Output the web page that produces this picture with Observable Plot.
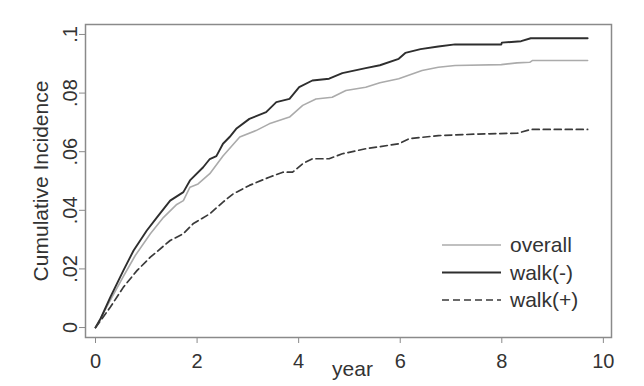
<!DOCTYPE html>
<html>
<head>
<meta charset="utf-8">
<script src="https://cdn.jsdelivr.net/npm/d3@7"></script>
<script src="https://cdn.jsdelivr.net/npm/@observablehq/plot@0.6"></script>
<style>
  html, body { margin: 0; padding: 0; background: #fff; }
  #chart { width: 644px; height: 386px; }
</style>
</head>
<body>
<div id="chart"></div>
<script>
// ---- data ----
const seriesNames = ["overall", "walk(-)", "walk(+)"];

const overallPts = [
  [0, 0], [0.29, 0.0093], [0.55, 0.0175], [0.78, 0.0245], [1.08, 0.032], [1.34, 0.0376],
  [1.6, 0.042], [1.73, 0.0433], [1.86, 0.0479], [2.02, 0.049], [2.25, 0.0525], [2.51, 0.0585],
  [2.84, 0.065], [3.16, 0.0672], [3.42, 0.0695], [3.82, 0.0718], [4.08, 0.0758], [4.34, 0.078],
  [4.66, 0.0786], [4.93, 0.0809], [5.32, 0.082], [5.6, 0.0835], [5.97, 0.0849], [6.43, 0.0877],
  [6.75, 0.0888], [7.08, 0.0894], [7.99, 0.0897], [8.3, 0.0903], [8.55, 0.0905], [8.6, 0.0911],
  [9.69, 0.0911]
];

const walkMinusPts = [
  [0, 0], [0.1, 0.003], [0.29, 0.0103], [0.55, 0.0195], [0.75, 0.0263], [1.01, 0.0331],
  [1.21, 0.0376], [1.47, 0.0433], [1.73, 0.0462], [1.86, 0.0502], [2.12, 0.0547], [2.25, 0.0575],
  [2.38, 0.0585], [2.51, 0.0627], [2.64, 0.065], [2.77, 0.0678], [3.03, 0.0712], [3.36, 0.0735],
  [3.56, 0.0769], [3.82, 0.078], [4.01, 0.082], [4.27, 0.0843], [4.6, 0.0849], [4.86, 0.0868],
  [5.32, 0.0885], [5.6, 0.0895], [5.97, 0.0917], [6.1, 0.0937], [6.4, 0.095], [6.75, 0.0959],
  [7.08, 0.0966], [7.99, 0.0966], [8.0, 0.0972], [8.38, 0.0977], [8.57, 0.0987], [9.69, 0.0987]
];

const walkPlusPts = [
  [0, 0], [0.29, 0.0069], [0.55, 0.0138], [0.82, 0.0195], [1.08, 0.024], [1.47, 0.0297],
  [1.73, 0.032], [1.92, 0.0354], [2.25, 0.0388], [2.51, 0.0428], [2.71, 0.0456], [3.03, 0.0485],
  [3.42, 0.0513], [3.69, 0.053], [3.88, 0.053], [4.08, 0.0559], [4.27, 0.0576], [4.6, 0.0576],
  [4.86, 0.0593], [5.32, 0.061], [5.97, 0.0627], [6.17, 0.0644], [6.75, 0.0655], [7.5, 0.066],
  [8.31, 0.0663], [8.57, 0.0676], [9.69, 0.0676]
];

const xTicks = [0, 2, 4, 6, 8, 10];
const yTicks = [0, 0.02, 0.04, 0.06, 0.08, 0.1];
const yTickLabels = ["0", ".02", ".04", ".06", ".08", ".1"];
const xTitle = "year";
const yTitle = "Cumulative Incidence";

// ---- build ----
const toRows = (pts, name) => pts.map(([t, v]) => ({t, v, name}));
const rows = [
  ...toRows(overallPts, seriesNames[0]),
  ...toRows(walkMinusPts, seriesNames[1]),
  ...toRows(walkPlusPts, seriesNames[2])
];

const styles = {
  "overall": {stroke: "#ababab", strokeWidth: 1.6, dash: null},
  "walk(-)": {stroke: "#2e2e2e", strokeWidth: 1.9, dash: null},
  "walk(+)": {stroke: "#3a3a3a", strokeWidth: 1.7, dash: "7,4"}
};

const font = "'Liberation Sans', Arial, Helvetica, sans-serif";

const lineMarks = seriesNames.map(name => Plot.line(rows.filter(d => d.name === name), {
  x: "t", y: "v",
  stroke: styles[name].stroke,
  strokeWidth: styles[name].strokeWidth,
  strokeDasharray: styles[name].dash,
  strokeLinejoin: "round"
}));

const chart = Plot.plot({
  width: 644,
  height: 386,
  marginLeft: 85,
  marginRight: 33,
  marginTop: 24,
  marginBottom: 49,
  x: {domain: [-0.197, 10.16]},
  y: {domain: [-0.0034, 0.1034]},
  style: {fontFamily: font, fontSize: "20px", color: "#333", background: "#fff", overflow: "visible"},
  marks: [
    Plot.axisX({ticks: xTicks, tickSize: 6, tickPadding: 10, stroke: "#8a8a8a", fill: "#333",
      tickFormat: d => String(d), label: null, fontSize: 20}),
    Plot.axisY({ticks: yTicks, tickSize: 6, tickPadding: 3, tickRotate: -90, stroke: "#8a8a8a", fill: "#333",
      tickFormat: d => yTickLabels[yTicks.indexOf(d)], label: null, fontSize: 20}),
    ...lineMarks,
    Plot.frame({stroke: "#8a8a8a", strokeWidth: 1.5}),
    Plot.text([xTitle], {frameAnchor: "bottom", text: d => d, textAnchor: "middle", dx: 4, dy: 38, fontSize: 21, fill: "#333"}),
    Plot.text([yTitle], {frameAnchor: "left", text: d => d, textAnchor: "middle", rotate: -90, dx: -44, fontSize: 21, fill: "#333"})
  ]
});

document.getElementById("chart").appendChild(chart);

// ---- legend inside the plot area ----
const svg = d3.select(chart);
const legend = svg.append("g")
  .attr("font-family", font)
  .style("font-size", "21px")
  .attr("text-anchor", "start")
  .attr("fill", "#333");
seriesNames.forEach((name, i) => {
  const cy = 245 + i * 27.5;
  legend.append("line")
    .attr("x1", 442).attr("x2", 501).attr("y1", cy).attr("y2", cy)
    .attr("stroke", styles[name].stroke)
    .attr("stroke-width", styles[name].strokeWidth)
    .attr("stroke-dasharray", styles[name].dash);
  legend.append("text")
    .attr("x", 510).attr("y", cy).attr("dy", "0.35em")
    .attr("text-anchor", "start")
    .text(name);
});
</script>
</body>
</html>
